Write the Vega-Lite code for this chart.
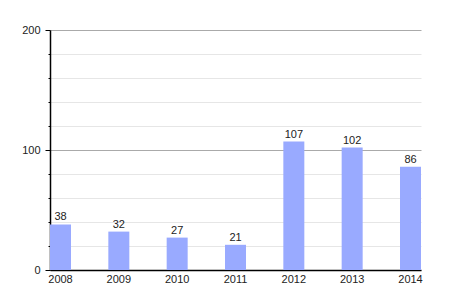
{
  "$schema": "https://vega.github.io/schema/vega-lite/v6.json",
  "width": 371,
  "height": 240,
  "autosize": {"type": "none"},
  "padding": {"left": 50, "top": 30, "right": 29, "bottom": 30},
  "background": "white",
  "config": {"view": {"stroke": null}, "font": "Liberation Sans"},
  "data": {"values": [
    {"year": "2008", "value": 38},
    {"year": "2009", "value": 32},
    {"year": "2010", "value": 27},
    {"year": "2011", "value": 21},
    {"year": "2012", "value": 107},
    {"year": "2013", "value": 102},
    {"year": "2014", "value": 86}
  ]},
  "encoding": {
    "x": {
      "field": "year", "type": "ordinal",
      "scale": {"paddingInner": 0.64, "paddingOuter": 0},
      "axis": {"title": null, "labelAngle": 0, "ticks": false, "labelPadding": 3, "labelFontSize": 11, "labelColor": "#222", "domainColor": "#000", "domainWidth": 1.5, "grid": false}
    },
    "y": {
      "field": "value", "type": "quantitative",
      "scale": {"domain": [0, 200], "nice": false},
      "axis": {
        "title": null,
        "values": [0, 20, 40, 60, 80, 100, 120, 140, 160, 180, 200],
        "labelExpr": "datum.value % 100 === 0 ? datum.label : ''",
        "labelFontSize": 11,
        "labelColor": "#222",
        "labelPadding": 5,
        "tickSize": {"condition": {"test": "datum.value % 100 === 0", "value": 5}, "value": 2},
        "tickColor": "#000",
        "domainColor": "#000",
        "domainWidth": 1.5,
        "grid": true,
        "gridColor": {"condition": {"test": "datum.value % 100 === 0", "value": "#aaaaaa"}, "value": "#e6e6e6"}
      }
    },
    "y2": {"datum": 0}
  },
  "layer": [
    {"mark": {"type": "bar", "color": "#99aaff"}},
    {"mark": {"type": "text", "dy": -7, "fontSize": 11, "color": "#222"}, "encoding": {"text": {"field": "value"}, "y2": null}}
  ]
}
